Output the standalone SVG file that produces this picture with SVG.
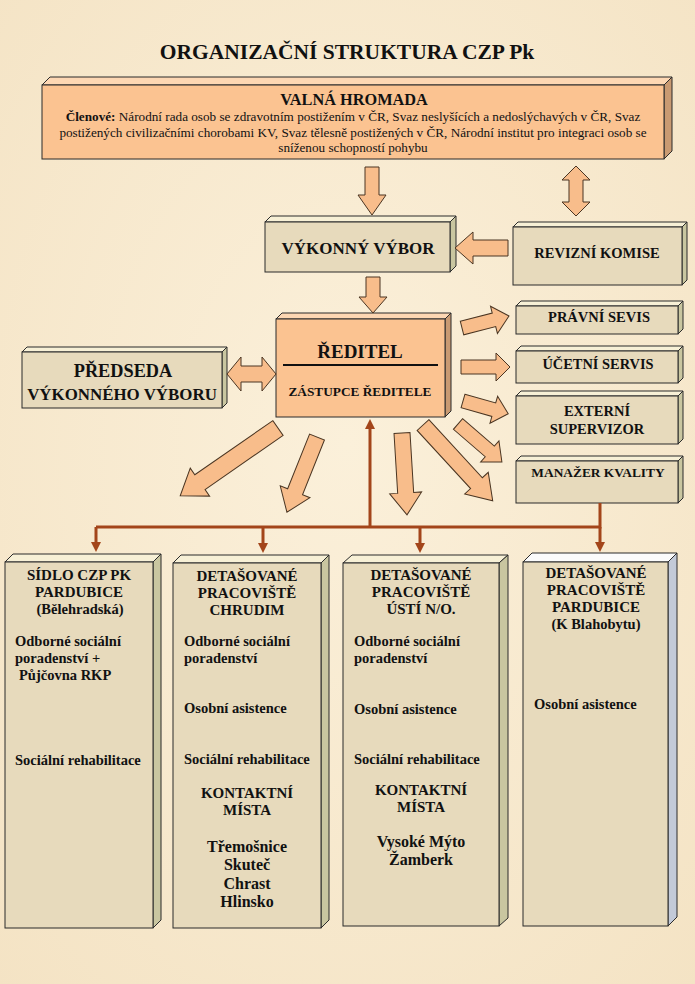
<svg xmlns="http://www.w3.org/2000/svg" width="695" height="984" viewBox="0 0 695 984">
<style>
text{font-family:'Liberation Serif',serif;font-weight:bold;fill:#111}
.c{text-anchor:middle}
.n{font-weight:normal}
.b{font-size:14.5px}
.h{font-size:15px}
.p{font-size:16px}
.ln{stroke:#2b2b2b;stroke-width:1}
.fo{fill:#fbc391}.to{fill:#fdd7b3}.so{fill:#c99a72}
.fg{fill:#e7dabc}.tg{fill:#f7f0d6}.sg{fill:#c9c6a0}
.sb{fill:#c3cad8}.tb{fill:#fbfbfb}
.arr{fill:#f8bd8b;stroke:#4a3522;stroke-width:1}
.br{stroke:#a3451a;stroke-width:3;fill:none}
</style>
<defs>
<radialGradient id="bg" cx="50%" cy="45%" r="75%">
<stop offset="0" stop-color="#fbf0da"/>
<stop offset="1" stop-color="#f4e3c4"/>
</radialGradient>
<marker id="ah" viewBox="0 0 10 10" markerWidth="10" markerHeight="10" refX="2" refY="5" orient="auto" markerUnits="userSpaceOnUse">
<path d="M0,0L10,5L0,10Z" fill="#a3451a"/>
</marker>
</defs>
<rect width="695" height="984" fill="url(#bg)"/>
<text x="347" y="59" class="c" font-size="21.5">ORGANIZAČNÍ STRUKTURA CZP Pk</text>

<g id="valna-hromada">
<polygon class="to ln" points="42,85 50,77 672,77 664,85"/>
<polygon class="so ln" points="664,85 672,77 672,151 664,159"/>
<rect class="fo ln" x="42" y="85" width="622" height="74"/>
<text x="354" y="105" class="c" font-size="16.3">VALNÁ HROMADA</text>
<text x="353" y="121" class="c n" font-size="13.2"><tspan font-weight="bold">Členové:</tspan> Národní rada osob se zdravotním postižením v ČR, Svaz neslyšících a nedoslýchavých v ČR, Svaz</text>
<text x="353" y="137" class="c n" font-size="13.2">postižených civilizačními chorobami KV, Svaz tělesně postižených v ČR, Národní institut pro integraci osob se</text>
<text x="353" y="152" class="c n" font-size="13.2">sníženou schopností pohybu</text>
</g>

<g id="vykonny-vybor">
<polygon class="tg ln" points="265,222 271,216 456,216 450,222"/>
<polygon class="sg ln" points="450,222 456,216 456,266 450,272"/>
<rect class="fg ln" x="265" y="222" width="185" height="50"/>
<text x="358" y="254" class="c" font-size="17">VÝKONNÝ VÝBOR</text>
</g>

<g id="revizni-komise">
<polygon class="tg ln" points="513,227 518,222 687,222 682,227"/>
<polygon class="sg ln" points="682,227 687,222 687,280 682,285"/>
<rect class="fg ln" x="513" y="227" width="169" height="58"/>
<text x="597" y="258" class="c" font-size="14.5">REVIZNÍ KOMISE</text>
</g>

<g id="reditel">
<polygon class="to ln" points="276,319 282,313 451,313 445,319"/>
<polygon class="so ln" points="445,319 451,313 451,411 445,417"/>
<rect class="fo ln" x="276" y="319" width="169" height="98"/>
<text x="360" y="358" class="c" font-size="19">ŘEDITEL</text>
<line x1="283" y1="365" x2="438" y2="365" stroke="#111" stroke-width="2"/>
<text x="360" y="396" class="c" font-size="13.3">ZÁSTUPCE ŘEDITELE</text>
</g>

<g id="predseda">
<polygon class="tg ln" points="22,352 27,347 227,347 222,352"/>
<polygon class="sg ln" points="222,352 227,347 227,403 222,408"/>
<rect class="fg ln" x="22" y="352" width="200" height="56"/>
<text x="123" y="377" class="c" font-size="18.3">PŘEDSEDA</text>
<text x="122" y="400" class="c" font-size="16.9">VÝKONNÉHO VÝBORU</text>
</g>

<g id="pravni-servis">
<polygon class="tg ln" points="516,306 521,301 683,301 678,306"/>
<polygon class="sg ln" points="678,306 683,301 683,329 678,334"/>
<rect class="fg ln" x="516" y="306" width="162" height="28"/>
<text x="599" y="322" class="c" font-size="14.5">PRÁVNÍ SEVIS</text>
</g>

<g id="ucetni-servis">
<polygon class="tg ln" points="516,351 521,346 683,346 678,351"/>
<polygon class="sg ln" points="678,351 683,346 683,378 678,383"/>
<rect class="fg ln" x="516" y="351" width="162" height="32"/>
<text x="598" y="369" class="c" font-size="14.4">ÚČETNÍ SERVIS</text>
</g>

<g id="externi-supervizor">
<polygon class="tg ln" points="516,396 521,391 683,391 678,396"/>
<polygon class="sg ln" points="678,396 683,391 683,439 678,444"/>
<rect class="fg ln" x="516" y="396" width="162" height="48"/>
<text x="597" y="416" class="c" font-size="14.5">EXTERNÍ</text>
<text x="597" y="434" class="c" font-size="14.5">SUPERVIZOR</text>
</g>

<g id="manazer-kvality">
<polygon class="tg ln" points="516,461 521,456 683,456 678,461"/>
<polygon class="sg ln" points="678,461 683,456 683,498 678,503"/>
<rect class="fg ln" x="516" y="461" width="162" height="42"/>
<text x="598" y="477" class="c" font-size="13.4">MANAŽER KVALITY</text>
</g>

<g id="sidlo">
<polygon class="tg ln" points="5,562 13,554 161,554 153,562"/>
<polygon class="sg ln" points="153,562 161,554 161,920 153,928"/>
<rect class="fg ln" x="5" y="562" width="148" height="366"/>
<text x="79" y="580" class="c h">SÍDLO  CZP PK</text>
<text x="79" y="597" class="c h">PARDUBICE</text>
<text x="80" y="614" class="c b">(Bělehradská)</text>
<text x="15" y="646" class="b">Odborné sociální</text>
<text x="15" y="663" class="b">poradenství +</text>
<text x="19" y="680" class="b">Půjčovna RKP</text>
<text x="15" y="765" class="b">Sociální rehabilitace</text>
</g>

<g id="chrudim">
<polygon class="tg ln" points="173,563 181,555 329,555 321,563"/>
<polygon class="sg ln" points="321,563 329,555 329,920 321,928"/>
<rect class="fg ln" x="173" y="563" width="148" height="365"/>
<text x="247" y="581" class="c h">DETAŠOVANÉ</text>
<text x="247" y="598" class="c h">PRACOVIŠTĚ</text>
<text x="247" y="615" class="c h">CHRUDIM</text>
<text x="184" y="646" class="b">Odborné sociální</text>
<text x="184" y="663" class="b">poradenství</text>
<text x="184" y="713" class="b">Osobní asistence</text>
<text x="184" y="764" class="b">Sociální rehabilitace</text>
<text x="247" y="798" class="c h">KONTAKTNÍ</text>
<text x="247" y="815" class="c h">MÍSTA</text>
<text x="247" y="852" class="c p">Třemošnice</text>
<text x="247" y="870" class="c p">Skuteč</text>
<text x="247" y="889" class="c p">Chrast</text>
<text x="247" y="907" class="c p">Hlinsko</text>
</g>

<g id="usti">
<polygon class="tg ln" points="343,563 352,555 508,555 499,563"/>
<polygon class="sg ln" points="499,563 508,555 508,918 499,926"/>
<rect class="fg ln" x="343" y="563" width="156" height="363"/>
<text x="421" y="580" class="c h">DETAŠOVANÉ</text>
<text x="421" y="597" class="c h">PRACOVIŠTĚ</text>
<text x="421" y="614" class="c h">ÚSTÍ N/O.</text>
<text x="354" y="646" class="b">Odborné sociální</text>
<text x="354" y="663" class="b">poradenství</text>
<text x="354" y="714" class="b">Osobní asistence</text>
<text x="354" y="764" class="b">Sociální rehabilitace</text>
<text x="421" y="795" class="c h">KONTAKTNÍ</text>
<text x="421" y="812" class="c h">MÍSTA</text>
<text x="421" y="847" class="c p">Vysoké Mýto</text>
<text x="421" y="865" class="c p">Žamberk</text>
</g>

<g id="pardubice-blahobytu">
<polygon class="tb ln" points="523,562 532,553 677,553 668,562"/>
<polygon class="sb ln" points="668,562 677,553 677,917 668,926"/>
<rect class="fg ln" x="523" y="562" width="145" height="364"/>
<text x="596" y="578" class="c h">DETAŠOVANÉ</text>
<text x="596" y="595" class="c h">PRACOVIŠTĚ</text>
<text x="596" y="612" class="c h">PARDUBICE</text>
<text x="596" y="629" class="c b">(K Blahobytu)</text>
<text x="534" y="709" class="b">Osobní asistence</text>
</g>

<g id="connectors">
<path class="arr" transform="translate(372,167) rotate(90)" d="M0,-7H28V-14L48,0L28,14V7H0Z"/>
<path class="arr" transform="translate(576,166) rotate(90)" d="M0,0L14,-14V-7H36V-14L50,0L36,14V7H14V14Z"/>
<path class="arr" transform="translate(508,248) rotate(180)" d="M0,-8H35V-16L53,0L35,16V8H0Z"/>
<path class="arr" transform="translate(373,277) rotate(90)" d="M0,-7H20V-14L36,0L20,14V7H0Z"/>
<path class="arr" transform="translate(227,374)" d="M0,0L14,-17V-8H35V-17L49,0L35,17V8H14V17Z"/>
<path class="arr" transform="translate(462,328) rotate(-14.3)" d="M0,-7H33V-14L48.5,0L33,14V7H0Z"/>
<path class="arr" transform="translate(461,367)" d="M0,-7H35V-14L49,0L35,14V7H0Z"/>
<path class="arr" transform="translate(463,401) rotate(15.8)" d="M0,-7H32V-14L47,0L32,14V7H0Z"/>
<path class="arr" transform="translate(458,424) rotate(40.8)" d="M0,-7H42V-14L58,0L42,14V7H0Z"/>
<path class="arr" transform="translate(278,428) rotate(145.25)" d="M0,-9H95V-17L119,0L95,17V9H0Z"/>
<path class="arr" transform="translate(317,437) rotate(111.8)" d="M0,-8H59V-16L81,0L59,16V8H0Z"/>
<path class="arr" transform="translate(402,433) rotate(86.5)" d="M0,-8H60V-16L82,0L60,16V8H0Z"/>
<path class="arr" transform="translate(423,425) rotate(47.4)" d="M0,-8H79V-16L103,0L79,16V8H0Z"/>
<path class="br" d="M96,527H600V503"/>
<path class="br" d="M370,527V427" marker-end="url(#ah)"/>
<path class="br" d="M96,527V544" marker-end="url(#ah)"/>
<path class="br" d="M263,527V545" marker-end="url(#ah)"/>
<path class="br" d="M420,527V545" marker-end="url(#ah)"/>
<path class="br" d="M600,527V544" marker-end="url(#ah)"/>
</g>
</svg>
